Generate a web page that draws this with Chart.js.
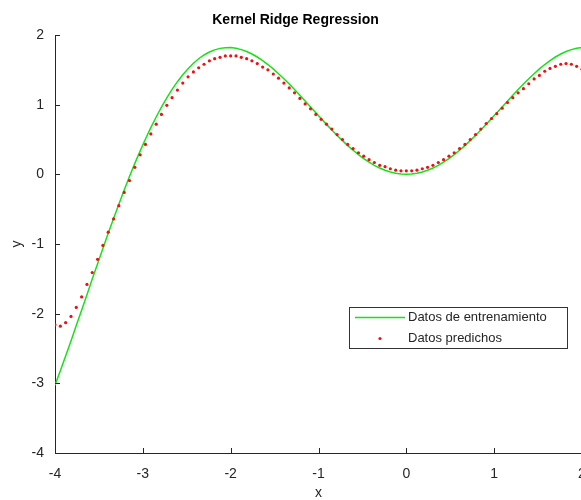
<!DOCTYPE html>
<html>
<head>
<meta charset="utf-8">
<title>Kernel Ridge Regression</title>
<script src="https://cdn.jsdelivr.net/npm/chart.js@4"></script>
<style>
  html, body { margin: 0; padding: 0; overflow: hidden; background: #fff; }
  #wrap { width: 600px; height: 500px; }
</style>
</head>
<body>
<div id="wrap"><canvas id="krrChart" width="600" height="500"></canvas></div>
<script>
// muestras en x (de -4 a 2)
const xValues = [
  -4, -3.939, -3.879, -3.818, -3.758, -3.697, -3.636, -3.576, -3.515, -3.455,
  -3.394, -3.333, -3.273, -3.212, -3.152, -3.091, -3.030, -2.970, -2.909, -2.848,
  -2.788, -2.727, -2.667, -2.606, -2.545, -2.485, -2.424, -2.364, -2.303, -2.242,
  -2.182, -2.121, -2.061, -2.000, -1.939, -1.879, -1.818, -1.758, -1.697, -1.636,
  -1.576, -1.515, -1.455, -1.394, -1.333, -1.273, -1.212, -1.152, -1.091, -1.030,
  -0.970, -0.909, -0.848, -0.788, -0.727, -0.667, -0.606, -0.545, -0.485, -0.424,
  -0.364, -0.303, -0.242, -0.182, -0.121, -0.061, 0, 0.061, 0.121, 0.182,
  0.242, 0.303, 0.364, 0.424, 0.485, 0.545, 0.606, 0.667, 0.727, 0.788,
  0.848, 0.909, 0.970, 1.030, 1.091, 1.152, 1.212, 1.273, 1.333, 1.394,
  1.455, 1.515, 1.576, 1.636, 1.697, 1.758, 1.818, 1.879, 1.939, 2
];

// datos de entrenamiento
const yTrain = [
  -3.027, -2.820, -2.607, -2.391, -2.171, -1.950, -1.727, -1.504, -1.283, -1.063,
  -0.847, -0.635, -0.428, -0.226, -0.031, 0.157, 0.337, 0.508, 0.670, 0.823,
  0.966, 1.098, 1.219, 1.330, 1.429, 1.517, 1.594, 1.659, 1.713, 1.756,
  1.787, 1.808, 1.818, 1.819, 1.809, 1.790, 1.763, 1.727, 1.684, 1.633,
  1.576, 1.513, 1.444, 1.372, 1.296, 1.217, 1.135, 1.052, 0.968, 0.883,
  0.800, 0.717, 0.637, 0.558, 0.484, 0.412, 0.345, 0.283, 0.226, 0.175,
  0.129, 0.090, 0.058, 0.033, 0.015, 0.004, 0.000, 0.004, 0.015, 0.033,
  0.058, 0.090, 0.129, 0.175, 0.226, 0.283, 0.345, 0.412, 0.484, 0.558,
  0.637, 0.717, 0.800, 0.883, 0.968, 1.052, 1.135, 1.217, 1.296, 1.372,
  1.444, 1.513, 1.576, 1.633, 1.684, 1.727, 1.763, 1.790, 1.809, 1.819
];

// predicciones del modelo
const yPred = [
  -2.16, -2.18, -2.13, -2.04, -1.91, -1.76, -1.58, -1.41, -1.22, -1.02,
  -0.83, -0.64, -0.45, -0.26, -0.09, 0.10, 0.28, 0.43, 0.58, 0.72,
  0.86, 0.99, 1.10, 1.21, 1.31, 1.40, 1.47, 1.53, 1.58, 1.63,
  1.66, 1.68, 1.70, 1.70, 1.70, 1.68, 1.66, 1.63, 1.59, 1.54,
  1.50, 1.44, 1.38, 1.31, 1.24, 1.17, 1.09, 1.01, 0.94, 0.86,
  0.79, 0.72, 0.65, 0.57, 0.50, 0.43, 0.37, 0.31, 0.26, 0.21,
  0.17, 0.13, 0.11, 0.08, 0.06, 0.05, 0.05, 0.05, 0.06, 0.08,
  0.10, 0.13, 0.17, 0.21, 0.26, 0.31, 0.37, 0.43, 0.50, 0.57,
  0.65, 0.73, 0.80, 0.87, 0.95, 1.03, 1.10, 1.17, 1.23, 1.30,
  1.37, 1.42, 1.48, 1.52, 1.55, 1.58, 1.59, 1.58, 1.55, 1.51
];

const xTicks = [-4, -3, -2, -1, 0, 1, 2];
const yTicks = [-4, -3, -2, -1, 0, 1, 2];

const FONT = "'Liberation Sans', Arial, Helvetica, sans-serif";
const AXIS = '#262626';

// marcas de eje hacia dentro (estilo matlab)
const inwardTicks = {
  id: 'inwardTicks',
  afterDatasetsDraw(chart) {
    const { ctx, chartArea, scales } = chart;
    ctx.save();
    ctx.strokeStyle = AXIS;
    ctx.lineWidth = 1;
    ctx.beginPath();
    xTicks.forEach(v => {
      const px = Math.round(scales.x.getPixelForValue(v)) + 0.5;
      ctx.moveTo(px, chartArea.bottom);
      ctx.lineTo(px, chartArea.bottom - 5);
    });
    yTicks.forEach(v => {
      const py = Math.round(scales.y.getPixelForValue(v)) + 0.5;
      ctx.moveTo(chartArea.left, py);
      ctx.lineTo(chartArea.left + 5, py);
    });
    ctx.stroke();
    ctx.restore();
  }
};

// leyenda dentro del area de ejes
const boxLegend = {
  id: 'boxLegend',
  afterDraw(chart) {
    const ctx = chart.ctx;
    const left = 349, top = 307, w = 218, h = 41;
    ctx.save();
    ctx.fillStyle = '#fff';
    ctx.fillRect(left, top, w, h);
    ctx.strokeStyle = '#333';
    ctx.lineWidth = 1;
    ctx.strokeRect(left + 0.5, top + 0.5, w, h);
    ctx.font = '13px ' + FONT;
    ctx.textBaseline = 'middle';
    ctx.fillStyle = AXIS;
    chart.data.datasets.forEach((ds, i) => {
      const y = top + 10.5 + i * 21;
      if (ds.showLine) {
        ctx.strokeStyle = ds.borderColor;
        ctx.lineWidth = ds.borderWidth;
        ctx.beginPath();
        ctx.moveTo(left + 6, y);
        ctx.lineTo(left + 56, y);
        ctx.stroke();
      } else {
        ctx.fillStyle = ds.pointBackgroundColor;
        ctx.beginPath();
        ctx.arc(left + 31, y, ds.pointRadius, 0, Math.PI * 2);
        ctx.fill();
      }
      ctx.fillStyle = AXIS;
      ctx.fillText(ds.label, left + 59, y);
    });
    ctx.restore();
  }
};

const ctx = document.getElementById('krrChart').getContext('2d');
const krrChart = new Chart(ctx, {
  type: 'scatter',
  data: {
    datasets: [{
      label: 'Datos de entrenamiento',
      data: xValues.map((x, i) => ({ x: x, y: yTrain[i] })),
      showLine: true,
      borderColor: '#19e019',
      borderWidth: 1.5,
      pointRadius: 0,
      tension: 0,
      order: 2
    }, {
      label: 'Datos predichos',
      data: xValues.map((x, i) => ({ x: x, y: yPred[i] })),
      showLine: false,
      pointRadius: 1.6,
      pointBackgroundColor: '#ee1111',
      pointBorderWidth: 0,
      order: 1
    }]
  },
  options: {
    responsive: false,
    animation: false,
    layout: { padding: { left: 9, right: 18, top: 0, bottom: 0 } },
    plugins: {
      legend: { display: false },
      tooltip: { enabled: false },
      title: {
        display: true,
        text: 'Kernel Ridge Regression',
        color: '#000',
        font: { family: FONT, size: 14, weight: 'bold' },
        padding: { top: 12, bottom: 6.2 }
      }
    },
    scales: {
      x: {
        type: 'linear',
        min: -4,
        max: 2,
        afterBuildTicks: s => { s.ticks = xTicks.map(v => ({ value: v })); },
        afterFit: s => { s.height = 47; },
        grid: { display: false, drawTicks: false },
        border: { display: true, color: AXIS, width: 1 },
        ticks: { color: AXIS, padding: 13, font: { family: FONT, size: 14 }, maxRotation: 0 },
        title: { display: true, text: 'x', color: AXIS, font: { family: FONT, size: 14, lineHeight: 1 }, padding: 0 }
      },
      y: {
        type: 'linear',
        min: -4,
        max: 2,
        afterBuildTicks: s => { s.ticks = yTicks.map(v => ({ value: v })); },
        afterFit: s => { s.width = 46; },
        grid: { display: false, drawTicks: false },
        border: { display: true, color: AXIS, width: 1 },
        ticks: { color: AXIS, padding: 11, font: { family: FONT, size: 14 } },
        title: { display: true, text: 'y', color: AXIS, font: { family: FONT, size: 14 }, padding: 0 }
      }
    }
  },
  plugins: [inwardTicks, boxLegend]
});
</script>
</body>
</html>
